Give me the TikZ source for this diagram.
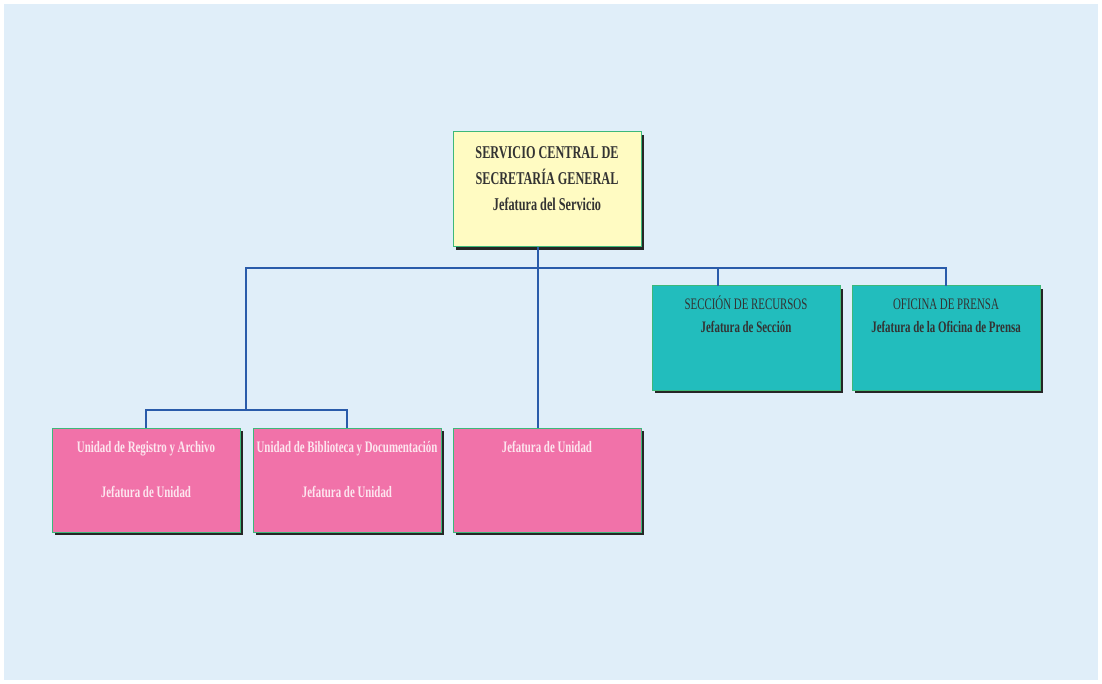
\documentclass[tikz,border=0pt]{standalone}
\usepackage{fontspec}
\setmainfont{Liberation Serif}[FakeStretch=0.68]
\usepackage{xcolor}
\usetikzlibrary{positioning}
\usetikzlibrary{shadows}
\definecolor{bgblue}{HTML}{E0EEF9}
\definecolor{boxline}{HTML}{3DB87A}
\definecolor{yellowbox}{HTML}{FFFBC2}
\definecolor{tealbox}{HTML}{22BDBD}
\definecolor{pinkbox}{HTML}{F172A9}
\definecolor{pinktext}{HTML}{FDE6EF}
\definecolor{darktext}{HTML}{333333}
\definecolor{linkblue}{HTML}{2A5BAA}
\tikzset{
	org box/.style={draw=boxline,line width=1pt,inner sep=0pt,outer sep=0pt,anchor=north west,
		drop shadow={shadow xshift=3pt,shadow yshift=-3pt,fill=black!85,opacity=1}},
	head box/.style={org box,fill=yellowbox,text=darktext},
	sec box/.style={org box,fill=tealbox,text=darktext},
	unit box/.style={org box,fill=pinkbox,text=pinktext},
	link/.style={draw=linkblue,line width=1.8pt}
}
% contenido de caja: primera linea base, texto
\newcommand{\boxtext}[2]{\parbox[b][104pt][t]{188pt}{\centering\rule{0pt}{#1}#2}}
\newcommand{\headtext}[1]{\parbox[b][115pt][t]{188pt}{\centering\fontsize{18}{26}\selectfont\bfseries\rule{0pt}{27pt}#1}}

\begin{document}
\begin{tikzpicture}[x=1pt,y=-1pt]
	\fill[bgblue] (4,4) rectangle (1098,680);
	\useasboundingbox (0,0) rectangle (1102,684);

	\node [head box] (head) at (453,132)
		{\headtext{SERVICIO CENTRAL DE\\SECRETARÍA GENERAL\\Jefatura del Servicio}};

	\node [sec box] (sec) at (652,286)
		{\boxtext{23pt}{\fontsize{16}{23}\selectfont SECCIÓN DE RECURSOS\\\bfseries Jefatura de Sección}};
	\node [sec box,right=12pt of sec] (prensa)
		{\boxtext{23pt}{\fontsize{16}{23}\selectfont OFICINA DE PRENSA\\\bfseries Jefatura de la Oficina de Prensa}};

	\node [unit box] (registro) at (52,428)
		{\boxtext{24pt}{\fontsize{16}{22.5}\selectfont\bfseries Unidad de Registro y Archivo\\[22.5pt]Jefatura de Unidad}};
	\node [unit box,right=13pt of registro] (biblio)
		{\boxtext{24pt}{\fontsize{16}{22.5}\selectfont\bfseries Unidad de Biblioteca y Documentación\\[22.5pt]Jefatura de Unidad}};
	\node [unit box,right=12pt of biblio] (jefunidad)
		{\boxtext{24pt}{\fontsize{16}{22.5}\selectfont\bfseries Jefatura de Unidad}};

	% lineas de dependencia
	\coordinate (topbus) at (246,268);
	\coordinate (unitbus) at (246,410);
	\draw[link] ([xshift=-9pt]head.south) -- ([xshift=-9pt]jefunidad.north);
	\draw[link] (unitbus) -- (topbus) -| (prensa.north);
	\draw[link] ([xshift=-28pt]sec.north) |- (topbus);
	\draw[link] (registro.north) |- (unitbus) -| (biblio.north);
\end{tikzpicture}
\end{document}
